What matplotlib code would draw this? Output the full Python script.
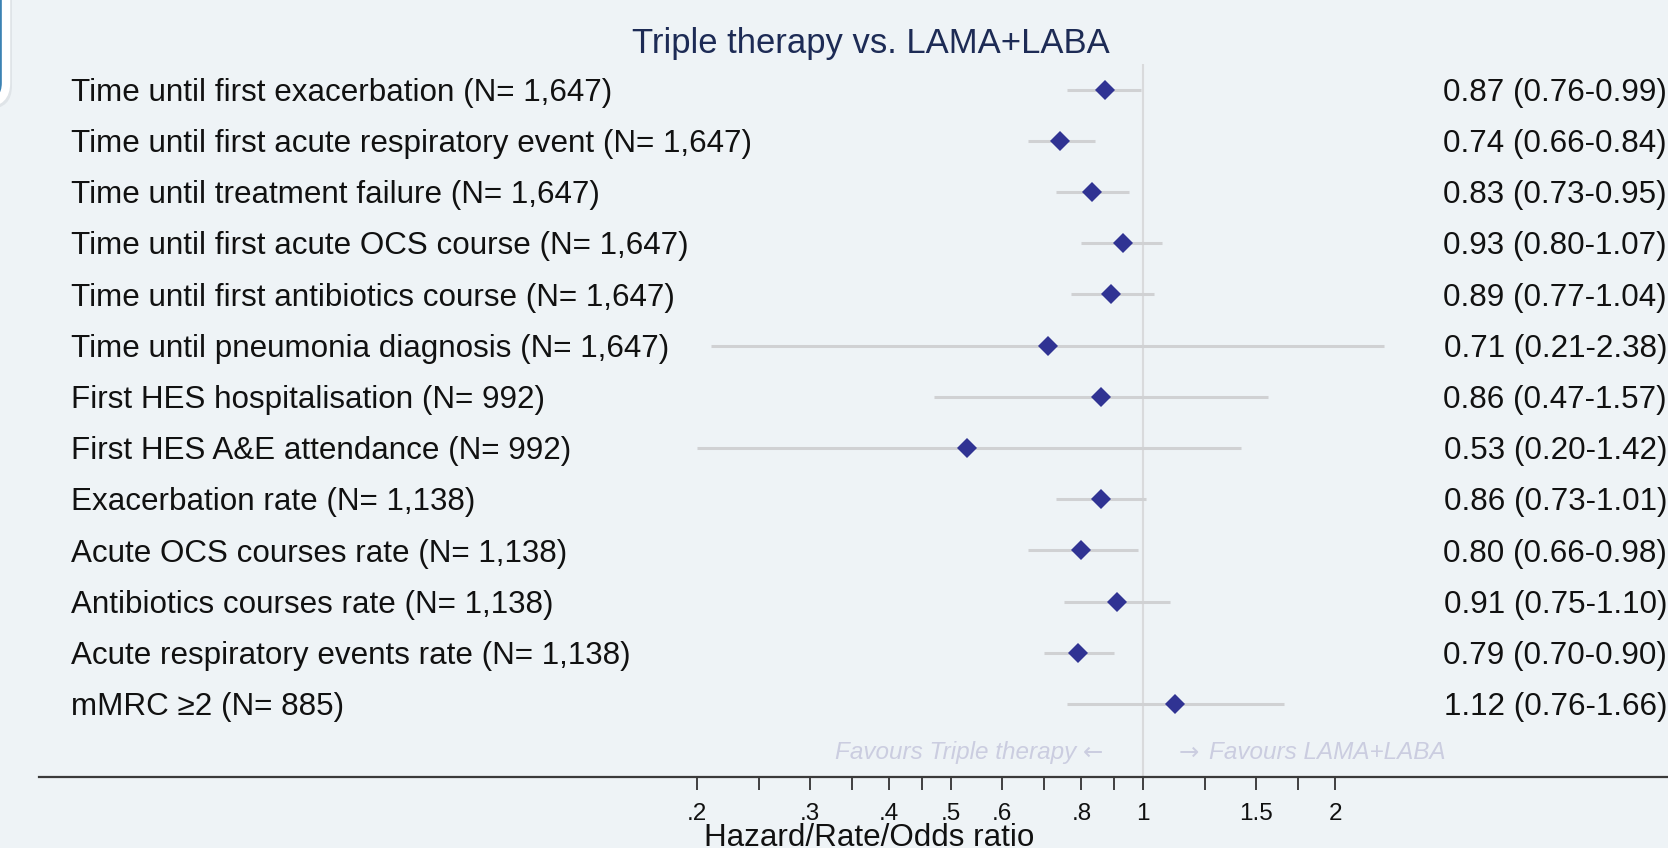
import numpy as np
import matplotlib
matplotlib.use("Agg")
import matplotlib.pyplot as plt
import matplotlib.transforms as mtransforms
from matplotlib.patches import FancyBboxPatch
from matplotlib.ticker import NullFormatter, FixedLocator, FixedFormatter

# ---------------- data ----------------
labels = [
    "Time until first exacerbation (N= 1,647)",
    "Time until first acute respiratory event (N= 1,647)",
    "Time until treatment failure (N= 1,647)",
    "Time until first acute OCS course (N= 1,647)",
    "Time until first antibiotics course (N= 1,647)",
    "Time until pneumonia diagnosis (N= 1,647)",
    "First HES hospitalisation (N= 992)",
    "First HES A&E attendance (N= 992)",
    "Exacerbation rate (N= 1,138)",
    "Acute OCS courses rate (N= 1,138)",
    "Antibiotics courses rate (N= 1,138)",
    "Acute respiratory events rate (N= 1,138)",
    "mMRC \u22652 (N= 885)",
]
ratio = [0.87, 0.74, 0.83, 0.93, 0.89, 0.71, 0.86, 0.53, 0.86, 0.80, 0.91, 0.79, 1.12]
ci_low = [0.76, 0.66, 0.73, 0.80, 0.77, 0.21, 0.47, 0.20, 0.73, 0.66, 0.75, 0.70, 0.76]
ci_high = [0.99, 0.84, 0.95, 1.07, 1.04, 2.38, 1.57, 1.42, 1.01, 0.98, 1.10, 0.90, 1.66]

major_ticks = [0.2, 0.3, 0.4, 0.5, 0.6, 0.8, 1, 1.5, 2]
major_labels = [".2", ".3", ".4", ".5", ".6", ".8", "1", "1.5", "2"]
minor_ticks = [0.25, 0.35, 0.45, 0.7, 0.9, 1.25, 1.75]

title = "Triple therapy vs. LAMA+LABA"
xlabel = "Hazard/Rate/Odds ratio"
fav_left = "Favours Triple therapy"
fav_right = "Favours LAMA+LABA"
arrow_left = "\u2190"
arrow_right = "\u2192"

# ---------------- style ----------------
W, H = 1668, 848
BG = "#eef3f6"
FONT = ["Liberation Sans", "DejaVu Sans"]
plt.rcParams["font.family"] = FONT

fig = plt.figure(figsize=(W / 100, H / 100), dpi=100, facecolor=BG)

ax_left, ax_right, ax_top, ax_bottom = 39, 1668, 64, 777
ax = fig.add_axes([ax_left / W, 1 - ax_bottom / H, (ax_right - ax_left) / W, (ax_bottom - ax_top) / H])
ax.set_facecolor(BG)
ax.set_xscale("log")

# pixel mapping: x=1 at 1143.3 px, 277.2 px per ln unit
px1, k = 1143.3, 277.2
ax.set_xlim(np.exp((ax_left - px1) / k), np.exp((ax_right - px1) / k))
row0, rowstep = 89.5, 51.2
ax.set_ylim((ax_bottom - row0) / rowstep, (ax_top - row0) / rowstep)

n = len(labels)
ypos = np.arange(n)

ax.axvline(1, color="#d9dadc", lw=1.5, zorder=0)
ax.hlines(ypos, ci_low, ci_high, color="#d0d1d3", lw=2.2, zorder=1)
ax.plot(ratio, ypos, linestyle="none", marker="D", ms=10.3, color="#303393",
        markeredgewidth=0, zorder=3)

for s in ["top", "left", "right"]:
    ax.spines[s].set_visible(False)
ax.spines["bottom"].set_color("#3a3a3a")
ax.spines["bottom"].set_linewidth(1.6)
ax.yaxis.set_visible(False)

ax.xaxis.set_major_locator(FixedLocator(major_ticks))
ax.xaxis.set_major_formatter(FixedFormatter(major_labels))
ax.xaxis.set_minor_locator(FixedLocator(minor_ticks))
ax.xaxis.set_minor_formatter(NullFormatter())
ax.tick_params(axis="x", which="both", length=9.5, width=1.2, color="#222222",
               direction="out", labelsize=17.5, labelcolor="#111111", pad=9.5)

# row texts
LBL = 22.6
trans_left = mtransforms.blended_transform_factory(fig.transFigure, ax.transData)
shift = mtransforms.ScaledTranslation(0, -0.358 * LBL / 72, fig.dpi_scale_trans)
for i, lab in enumerate(labels):
    fig.text(71 / W, ypos[i], lab, transform=trans_left + shift, ha="left",
             va="baseline", fontsize=LBL, color="#111111")
    txt = f"{ratio[i]:.2f} ({ci_low[i]:.2f}-{ci_high[i]:.2f})"
    fig.text(1667 / W, ypos[i], txt, transform=trans_left + shift, ha="right",
             va="baseline", fontsize=LBL, color="#111111")

# favours
FAV = 17.5
FAVC = "#cbcde0"
fav_y = (750.7 - row0) / rowstep
fshift = 0.358 * FAV / 72


def off(dx_px):
    return ax.transData + mtransforms.ScaledTranslation(dx_px / 100, -fshift, fig.dpi_scale_trans)


ax.text(1, fav_y, arrow_left, transform=off(-40), ha="right", va="baseline",
        fontsize=FAV, color=FAVC, family="DejaVu Sans")
ax.text(1, fav_y, fav_left, transform=off(-67), ha="right", va="baseline",
        fontsize=FAV, style="italic", color=FAVC)
ax.text(1, fav_y, arrow_right, transform=off(35), ha="left", va="baseline",
        fontsize=FAV, color=FAVC, family="DejaVu Sans")
ax.text(1, fav_y, fav_right, transform=off(66), ha="left", va="baseline",
        fontsize=FAV, style="italic", color=FAVC)

# title and x label
fig.text(871 / W, 1 - 53.3 / H, title, ha="center", va="baseline",
         fontsize=24.9, color="#1d2b55")
fig.text(869 / W, 1 - 846 / H, xlabel, ha="center", va="baseline",
         fontsize=22.6, color="#111111")

# top-left UI box fragment (shadow + box)
shadow = FancyBboxPatch((-40 / W, 1 - 109 / H), 52 / W, 200 / H,
                        boxstyle="round,pad=0,rounding_size=0.014",
                        transform=fig.transFigure, facecolor="#dfe4e8",
                        edgecolor="none", zorder=9, mutation_aspect=W / H)
fig.patches.append(shadow)
box = FancyBboxPatch((-40 / W, 1 - 103 / H), 46 / W, 200 / H,
                     boxstyle="round,pad=0,rounding_size=0.012",
                     transform=fig.transFigure, facecolor="#3b82b3",
                     edgecolor="white", lw=6, zorder=10, mutation_aspect=W / H)
fig.patches.append(box)

fig.savefig("out.png", dpi=100, facecolor=BG)
